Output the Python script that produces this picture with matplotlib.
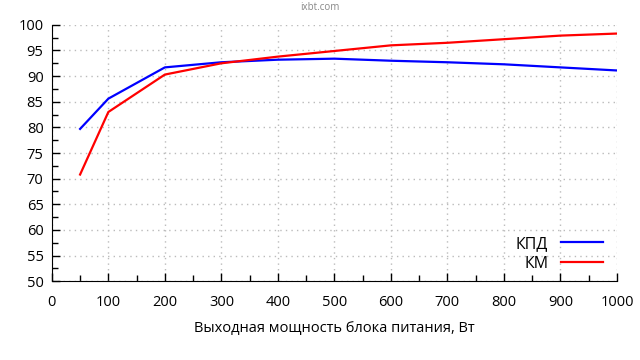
import numpy as np
import matplotlib.pyplot as plt
from matplotlib.ticker import MultipleLocator

plt.rcParams['font.family'] = ['Open Sans', 'DejaVu Sans']

power_w = [50, 100, 200, 300, 400, 500, 600, 700, 800, 900, 1000]
kpd = [79.7, 85.6, 91.7, 92.7, 93.2, 93.4, 93.0, 92.7, 92.3, 91.7, 91.1]
km = [70.8, 83.0, 90.3, 92.5, 93.8, 94.9, 96.0, 96.5, 97.2, 97.9, 98.3]

fig = plt.figure(figsize=(6.4, 3.6), dpi=100)
ax = fig.add_axes([0.081, 0.219, 0.883, 0.712])

ax.plot(power_w, kpd, color='#0000ff', lw=1.6, label='КПД')
ax.plot(power_w, km, color='#ff0000', lw=1.6, label='КМ')

ax.set_xlim(0, 1000)
ax.set_ylim(50, 100)
ax.xaxis.set_major_locator(MultipleLocator(100))
ax.xaxis.set_minor_locator(MultipleLocator(50))
ax.yaxis.set_major_locator(MultipleLocator(5))
ax.yaxis.set_minor_locator(MultipleLocator(2.5))
ax.tick_params(which='both', direction='in', labelsize=10.5, width=1)
ax.tick_params(which='major', length=6)
ax.tick_params(which='minor', length=4)
ax.tick_params(axis='x', pad=10)
ax.tick_params(axis='y', pad=6)
ax.spines['top'].set_visible(False)
ax.spines['right'].set_visible(False)
ax.grid(True, which='major', color='#bbbbbb', linestyle=(0, (1, 3)), lw=1)

ax.set_xlabel('Выходная мощность блока питания, Вт', fontsize=10.5, labelpad=8)
fig.text(0.5, 0.978, 'ixbt.com', ha='center', va='center', fontsize=7, color='#888888')

ax.legend(loc='lower right', bbox_to_anchor=(1.0, -0.02), frameon=False, markerfirst=False,
          fontsize=11.5, handlelength=2.6, labelspacing=0.25)

fig.savefig('out.png', dpi=100)
